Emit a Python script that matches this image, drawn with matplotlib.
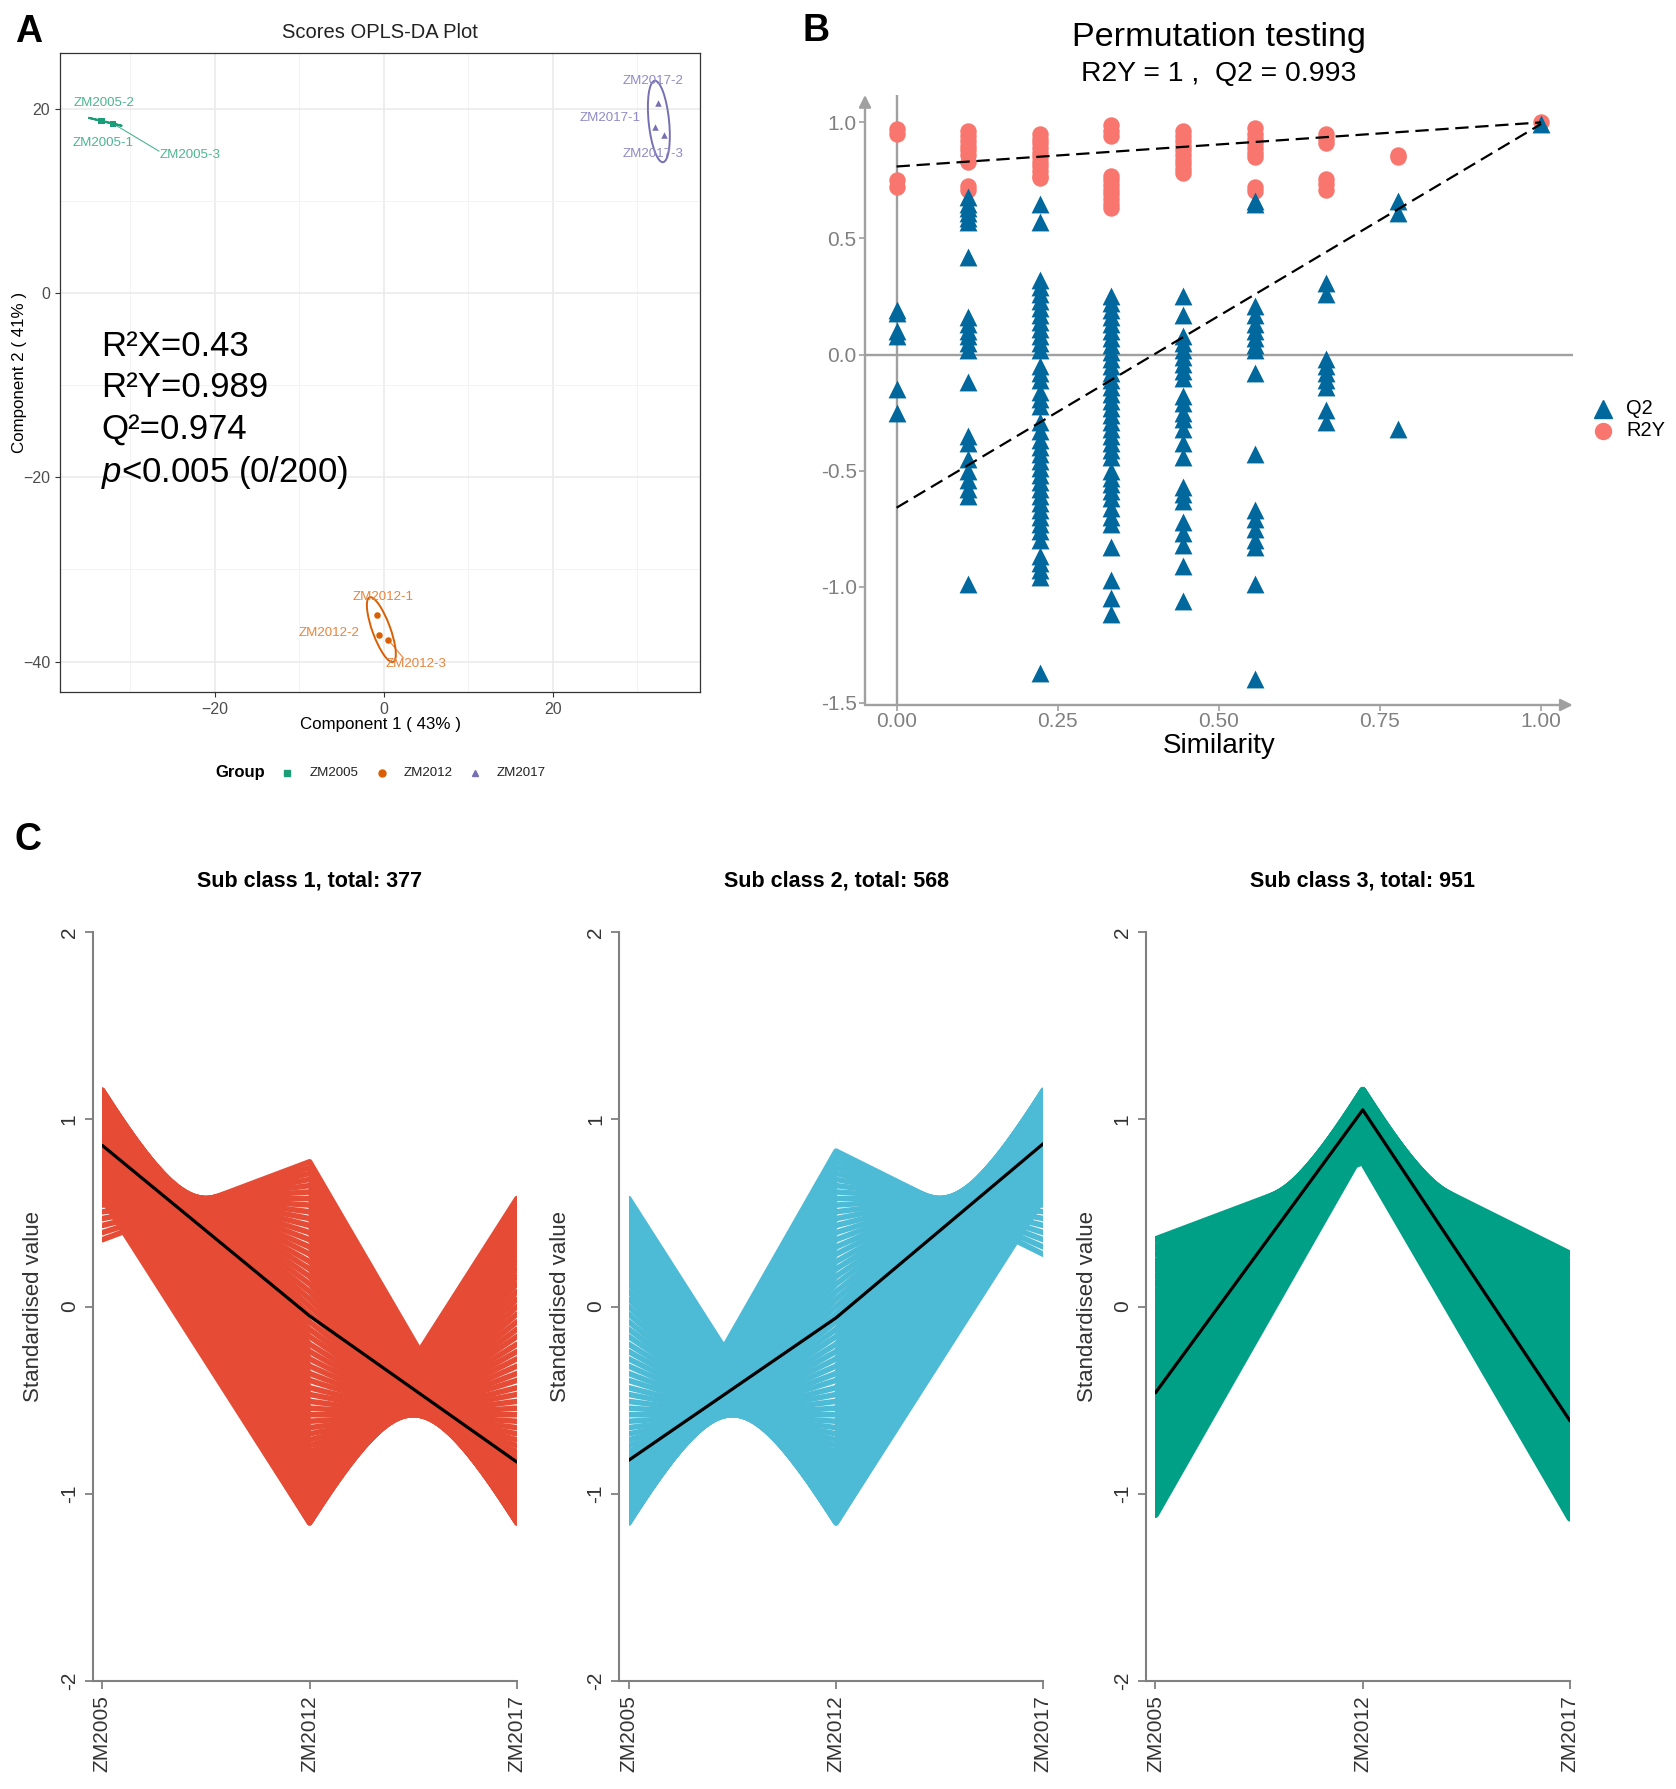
import matplotlib
matplotlib.use("Agg")
import matplotlib.pyplot as plt
import numpy as np
from matplotlib.patches import Ellipse, Rectangle
from matplotlib.lines import Line2D

plt.rcParams['font.family'] = ['Liberation Sans', 'DejaVu Sans']
plt.rcParams['mathtext.fontset'] = 'custom'
plt.rcParams['mathtext.it'] = 'Liberation Sans:italic'
plt.rcParams['mathtext.rm'] = 'Liberation Sans'

# ---------------- DATA ----------------
# Panel A: OPLS-DA scores
score_groups = ['ZM2005', 'ZM2012', 'ZM2017']
score_names = [['ZM2005-1', 'ZM2005-2', 'ZM2005-3'],
               ['ZM2012-1', 'ZM2012-2', 'ZM2012-3'],
               ['ZM2017-1', 'ZM2017-2', 'ZM2017-3']]
score_x = [[-33.5, -33.3, -32.0], [-0.79, -0.59, 0.51], [32.05, 32.45, 33.1]]
score_y = [[18.70, 18.66, 18.37], [-34.9, -37.08, -37.62], [18.0, 20.65, 17.2]]
model_stats = ['R\u00b2X=0.43', 'R\u00b2Y=0.989', 'Q\u00b2=0.974', r'$\mathit{p}$<0.005 (0/200)']

# Panel B: permutation test
perm_sim = [0.0, 0.111, 0.222, 0.333, 0.444, 0.556, 0.667, 0.778, 1.0]
q2_vals = [
    [0.19, 0.18, 0.10, 0.08, -0.15, -0.25],
    [0.68, 0.65, 0.63, 0.61, 0.59, 0.57, 0.42, 0.16, 0.13, 0.10, 0.08, 0.05, 0.02, -0.12,
     -0.35, -0.38, -0.45, -0.50, -0.54, -0.58, -0.61, -0.99],
    [0.65, 0.57, 0.32, 0.29, 0.26, 0.23, 0.20, 0.17, 0.14, 0.11, 0.08, 0.05, 0.02, -0.05,
     -0.08, -0.11, -0.16, -0.19, -0.22, -0.29, -0.33, -0.37, -0.40, -0.43, -0.46, -0.49,
     -0.52, -0.55, -0.58, -0.61, -0.64, -0.67, -0.70, -0.73, -0.76, -0.80, -0.87, -0.90,
     -0.93, -0.96, -1.37],
    [0.25, 0.22, 0.19, 0.16, 0.13, 0.10, 0.07, 0.04, 0.01, -0.02, -0.05, -0.08, -0.11, -0.14,
     -0.17, -0.20, -0.23, -0.26, -0.29, -0.32, -0.35, -0.38, -0.41, -0.44, -0.50, -0.53,
     -0.56, -0.59, -0.62, -0.66, -0.70, -0.73, -0.83, -0.97, -1.05, -1.12],
    [0.25, 0.17, 0.08, 0.05, 0.02, -0.01, -0.04, -0.07, -0.10, -0.18, -0.21, -0.25, -0.28,
     -0.32, -0.38, -0.44, -0.57, -0.60, -0.63, -0.72, -0.77, -0.82, -0.91, -1.06],
    [0.66, 0.65, 0.21, 0.17, 0.13, 0.10, 0.07, 0.04, 0.02, -0.08, -0.43, -0.67, -0.71, -0.75,
     -0.80, -0.83, -0.99, -1.40],
    [0.31, 0.26, -0.02, -0.05, -0.08, -0.11, -0.14, -0.24, -0.29],
    [0.66, 0.61, -0.32],
    [0.993],
]
r2y_vals = [
    [0.97, 0.95, 0.75, 0.72],
    [0.965, 0.94, 0.92, 0.90, 0.88, 0.86, 0.83, 0.725, 0.71],
    [0.95, 0.93, 0.91, 0.89, 0.87, 0.85, 0.83, 0.81, 0.79, 0.77, 0.76],
    [0.99, 0.965, 0.94, 0.77, 0.75, 0.73, 0.71, 0.69, 0.67, 0.65, 0.63],
    [0.965, 0.94, 0.92, 0.90, 0.88, 0.86, 0.84, 0.82, 0.80, 0.78],
    [0.975, 0.95, 0.93, 0.91, 0.89, 0.87, 0.85, 0.72, 0.705],
    [0.95, 0.93, 0.91, 0.755, 0.735, 0.71],
    [0.86, 0.85],
    [1.0],
]
r2y_intercept, r2y_model = 0.81, 1.0
q2_intercept, q2_model = -0.66, 0.993

# Panel C: standardised profiles (ZM2005, ZM2012, ZM2017) per feature
c_samples = ['ZM2005', 'ZM2012', 'ZM2017']
c_titles = ['Sub class 1, total: 377', 'Sub class 2, total: 568', 'Sub class 3, total: 951']

c1_2005 = [0.577, 0.612, 0.646, 0.679, 0.711, 0.742, 0.773, 0.802, 0.831, 0.858,
           0.885, 0.910, 0.934, 0.957, 0.979, 1.000, 1.019, 1.038, 1.055, 1.071,
           1.085, 1.098, 1.110, 1.120, 1.129, 1.137, 1.143, 1.148, 1.152, 1.154,
           1.155,
           1.154, 1.152, 1.148, 1.143, 1.137, 1.129, 1.120, 1.110, 1.098, 1.085,
           1.071, 1.055, 1.038, 1.019, 1.000, 0.979, 0.957, 0.934, 0.910, 0.885,
           0.858, 0.831, 0.802, 0.773, 0.742, 0.711, 0.679, 0.646, 0.612, 0.577,
           0.542, 0.506, 0.470, 0.433, 0.395, 0.357]
c1_2012 = [-1.155, -1.154, -1.152, -1.148, -1.143, -1.137, -1.129, -1.120, -1.110, -1.098,
           -1.085, -1.071, -1.055, -1.038, -1.020, -1.000, -0.980, -0.957, -0.935, -0.910,
           -0.885, -0.858, -0.831, -0.802, -0.773, -0.742, -0.711, -0.679, -0.646, -0.612,
           -0.577,
           -0.542, -0.506, -0.469, -0.433, -0.394, -0.357, -0.318, -0.279, -0.240, -0.201,
           -0.160, -0.121, -0.081, -0.040, 0.000, 0.040, 0.080, 0.121, 0.161, 0.201,
           0.240, 0.280, 0.318, 0.357, 0.395, 0.433, 0.470, 0.506, 0.542, 0.577,
           0.612, 0.646, 0.679, 0.711, 0.742, 0.773]
c1_2017 = [0.577, 0.542, 0.506, 0.470, 0.433, 0.395, 0.357, 0.318, 0.280, 0.240,
           0.201, 0.161, 0.121, 0.080, 0.040, 0.000, -0.040, -0.081, -0.121, -0.160,
           -0.201, -0.240, -0.279, -0.318, -0.357, -0.394, -0.433, -0.469, -0.506, -0.542,
           -0.577,
           -0.612, -0.646, -0.679, -0.711, -0.742, -0.773, -0.802, -0.831, -0.858, -0.885,
           -0.910, -0.935, -0.957, -0.980, -1.000, -1.020, -1.038, -1.055, -1.071, -1.085,
           -1.098, -1.110, -1.120, -1.129, -1.137, -1.143, -1.148, -1.152, -1.154, -1.155,
           -1.154, -1.152, -1.149, -1.143, -1.138, -1.129]

c2_2005 = [0.577, 0.542, 0.506, 0.470, 0.433, 0.395, 0.357, 0.318, 0.280, 0.240,
           0.201, 0.161, 0.121, 0.080, 0.040, 0.000, -0.040, -0.081, -0.121, -0.160,
           -0.201, -0.240, -0.279, -0.318, -0.357, -0.394, -0.433, -0.469, -0.506, -0.542,
           -0.577,
           -0.612, -0.646, -0.679, -0.711, -0.742, -0.773, -0.802, -0.831, -0.858, -0.885,
           -0.910, -0.935, -0.957, -0.980, -1.000, -1.020, -1.038, -1.055, -1.071, -1.085,
           -1.098, -1.110, -1.120, -1.129, -1.137, -1.143, -1.148, -1.152, -1.154, -1.155,
           -1.154, -1.152, -1.149, -1.143, -1.138, -1.129, -1.120, -1.110]
c2_2012 = [-1.155, -1.154, -1.152, -1.148, -1.143, -1.137, -1.129, -1.120, -1.110, -1.098,
           -1.085, -1.071, -1.055, -1.038, -1.020, -1.000, -0.980, -0.957, -0.935, -0.910,
           -0.885, -0.858, -0.831, -0.802, -0.773, -0.742, -0.711, -0.679, -0.646, -0.612,
           -0.577,
           -0.542, -0.506, -0.469, -0.433, -0.394, -0.357, -0.318, -0.279, -0.240, -0.201,
           -0.160, -0.121, -0.081, -0.040, 0.000, 0.040, 0.080, 0.121, 0.161, 0.201,
           0.240, 0.280, 0.318, 0.357, 0.395, 0.433, 0.470, 0.506, 0.542, 0.577,
           0.612, 0.646, 0.679, 0.711, 0.742, 0.773, 0.802, 0.830]
c2_2017 = [0.577, 0.612, 0.646, 0.679, 0.711, 0.742, 0.773, 0.802, 0.831, 0.858,
           0.885, 0.910, 0.934, 0.957, 0.979, 1.000, 1.019, 1.038, 1.055, 1.071,
           1.085, 1.098, 1.110, 1.120, 1.129, 1.137, 1.143, 1.148, 1.152, 1.154,
           1.155,
           1.154, 1.152, 1.148, 1.143, 1.137, 1.129, 1.120, 1.110, 1.098, 1.085,
           1.071, 1.055, 1.038, 1.019, 1.000, 0.979, 0.957, 0.934, 0.910, 0.885,
           0.858, 0.831, 0.802, 0.773, 0.742, 0.711, 0.679, 0.646, 0.612, 0.577,
           0.542, 0.506, 0.470, 0.433, 0.395, 0.357, 0.318, 0.279]

c3_2005 = [0.357, 0.318, 0.280, 0.240, 0.201, 0.161, 0.121, 0.080, 0.040, 0.000,
           -0.040, -0.081, -0.121, -0.160, -0.201, -0.240, -0.279, -0.318, -0.357, -0.394,
           -0.433, -0.469, -0.506, -0.542, -0.577, -0.612, -0.646, -0.679, -0.711, -0.742,
           -0.773, -0.802, -0.831, -0.858, -0.885, -0.910, -0.935, -0.957, -0.980, -1.000,
           -1.020, -1.038, -1.055, -1.071, -1.085, -1.098, -1.110]
c3_2012 = [0.773, 0.802, 0.831, 0.858, 0.885, 0.910, 0.934, 0.957, 0.979, 1.000,
           1.019, 1.038, 1.055, 1.071, 1.085, 1.098, 1.110, 1.120, 1.129, 1.137,
           1.143, 1.148, 1.152, 1.154, 1.155, 1.154, 1.152, 1.148, 1.143, 1.137,
           1.129, 1.120, 1.110, 1.098, 1.085, 1.071, 1.055, 1.038, 1.019, 1.000,
           0.979, 0.957, 0.934, 0.910, 0.885, 0.858, 0.831]
c3_2017 = [-1.129, -1.120, -1.110, -1.098, -1.085, -1.071, -1.055, -1.038, -1.020, -1.000,
           -0.980, -0.957, -0.935, -0.910, -0.885, -0.858, -0.831, -0.802, -0.773, -0.742,
           -0.711, -0.679, -0.646, -0.612, -0.577, -0.542, -0.506, -0.469, -0.433, -0.394,
           -0.357, -0.318, -0.279, -0.240, -0.201, -0.160, -0.121, -0.081, -0.040, 0.000,
           0.040, 0.080, 0.121, 0.161, 0.201, 0.240, 0.280]

c_means = [[0.86, -0.05, -0.83], [-0.82, -0.06, 0.87], [-0.46, 1.05, -0.61]]

# ---------------- LAYOUT ----------------
W, H = 1676, 1789
fig = plt.figure(figsize=(W / 100, H / 100), dpi=100)
fig.patch.set_facecolor('white')


def box(l, t, r, b):
    return [l / W, 1 - b / H, (r - l) / W, (b - t) / H]


def fx(px):
    return px / W


def fy(py):
    return 1 - py / H


# ================= Panel A =================
colA = ['#1B9E77', '#D95F02', '#7570B3']
lblA = ['#4DB594', '#E8843C', '#8F8AC6']
markA = ['s', 'o', '^']
axA = fig.add_axes(box(60, 52.5, 700, 692))
axA.set_xlim(-38.3, 37.4)
axA.set_ylim(-43.3, 26.1)
axA.set_xticks([-20, 0, 20])
axA.set_yticks([-40, -20, 0, 20])
axA.set_xticks([-30, -10, 10, 30], minor=True)
axA.set_yticks([-30, -10, 10], minor=True)
axA.grid(which='major', color='#EBEBEB', lw=1.2)
axA.grid(which='minor', color='#F3F3F3', lw=0.7)
axA.set_axisbelow(True)
axA.tick_params(which='major', labelsize=11.5, labelcolor='#4D4D4D', color='#333333',
                length=3.5, width=0.8)
axA.tick_params(which='minor', length=0)
for s in axA.spines.values():
    s.set_color('#333333')
    s.set_linewidth(0.9)
axA.set_xlabel('Component 1 ( 43% )', fontsize=12.2)
axA.set_ylabel('Component 2 ( 41% )', fontsize=12.2)
axA.xaxis.set_label_coords(0.5, -0.051)
axA.yaxis.set_label_coords(-0.063, 0.5)
axA.xaxis.label.set_va('center')
axA.yaxis.label.set_va('center')

label_offsets = {
    'ZM2005-1': (0.3, -2.4), 'ZM2005-2': (0.25, 1.97), 'ZM2005-3': (9.15, -3.41),
    'ZM2012-1': (0.75, 1.9), 'ZM2012-2': (-5.9, 0.18), 'ZM2012-3': (3.36, -2.68),
    'ZM2017-1': (-5.25, 1.0), 'ZM2017-2': (-0.6, 2.35), 'ZM2017-3': (-1.25, -2.1),
}
leaders = {'ZM2005-3': (-26.6, 15.4), 'ZM2012-3': (2.3, -39.6)}

for g in range(3):
    xs = np.array(score_x[g])
    ys = np.array(score_y[g])
    cov = np.cov(xs, ys)
    vals, vecs = np.linalg.eigh(cov)
    order = vals.argsort()[::-1]
    vals, vecs = vals[order], vecs[:, order]
    ang = np.degrees(np.arctan2(vecs[1, 0], vecs[0, 0]))
    k = np.sqrt(5.991)
    e = Ellipse((xs.mean(), ys.mean()), 2 * k * np.sqrt(vals[0]),
                2 * k * np.sqrt(max(vals[1], 1e-4)), angle=ang,
                facecolor='none', edgecolor=colA[g], lw=1.4, zorder=3)
    axA.add_patch(e)
    axA.scatter(xs, ys, marker=markA[g], s=22, color=colA[g], zorder=4, linewidths=0)
    for i, nm in enumerate(score_names[g]):
        dx, dy = label_offsets[nm]
        if nm in leaders:
            lx, ly = leaders[nm]
            axA.plot([xs[i], lx], [ys[i], ly], color=lblA[g], lw=0.8, zorder=2)
        axA.text(xs[i] + dx, ys[i] + dy, nm, color=lblA[g], fontsize=9.6,
                 ha='center', va='center', zorder=5)

stat_y = [-5.77, -10.3, -14.8, -19.5]
for t, yy in zip(model_stats, stat_y):
    axA.text(-33.4, yy, t, fontsize=25, ha='left', va='center', color='black')

fig.text(fx(380), fy(33), 'Scores OPLS-DA Plot', ha='center', va='center', fontsize=14.5,
         color='#222222')

# legend for A
fig.text(fx(240), fy(773), 'Group', ha='center', va='center', fontsize=12, fontweight='bold')
leg_mx = [287, 382, 475]
leg_tx = [310, 404, 497]
for g in range(3):
    fig.add_artist(Line2D([fx(leg_mx[g])], [fy(773)], marker=markA[g], color=colA[g],
                          markersize=5, linestyle='none', transform=fig.transFigure))
    fig.text(fx(leg_tx[g]), fy(773), score_groups[g], ha='left', va='center', fontsize=9.6,
             color='#222222')

# ================= Panel B =================
colQ2 = '#00689D'
colR2 = '#F8766D'
axB = fig.add_axes(box(865, 95, 1572.7, 705))
axB.set_xlim(-0.049, 1.049)
axB.set_ylim(-1.51, 1.118)
for s in axB.spines.values():
    s.set_visible(False)
axB.axvline(0, color='#A0A0A0', lw=1.7, zorder=1)
axB.axhline(0, color='#A0A0A0', lw=1.7, zorder=1)
axB.annotate('', xy=(0, 1), xytext=(0, 0), xycoords='axes fraction',
             arrowprops=dict(arrowstyle='-|>', color='#A0A0A0', lw=1.7, mutation_scale=18,
                             shrinkA=0, shrinkB=0))
axB.annotate('', xy=(1, 0), xytext=(0, 0), xycoords='axes fraction',
             arrowprops=dict(arrowstyle='-|>', color='#A0A0A0', lw=1.7, mutation_scale=18,
                             shrinkA=0, shrinkB=0))
axB.set_xticks([0, 0.25, 0.5, 0.75, 1.0])
axB.set_xticklabels(['0.00', '0.25', '0.50', '0.75', '1.00'])
axB.set_yticks([-1.5, -1.0, -0.5, 0.0, 0.5, 1.0])
axB.set_yticklabels(['-1.5', '-1.0', '-0.5', '0.0', '0.5', '1.0'])
axB.tick_params(labelsize=15, labelcolor='#808080', color='#A0A0A0', length=4, width=1.2,
                pad=2)
axB.tick_params(axis='x', pad=1)
axB.set_xlabel('Similarity', fontsize=20)
axB.xaxis.set_label_coords(0.5, -(746 - 705) / 610)
axB.xaxis.label.set_va('center')

for sim, vals in zip(perm_sim, r2y_vals):
    axB.scatter([sim] * len(vals), vals, marker='o', s=140, color=colR2, linewidths=0,
                zorder=3, clip_on=False)
for sim, vals in zip(perm_sim, q2_vals):
    axB.scatter([sim] * len(vals), vals, marker='^', s=165, color=colQ2, linewidths=0,
                zorder=4, clip_on=False)
axB.plot([0, 1], [r2y_intercept, r2y_model], color='black', lw=1.6, dashes=(6, 3), zorder=5)
axB.plot([0, 1], [q2_intercept, q2_model], color='black', lw=1.6, dashes=(6, 3), zorder=5)

fig.text(fx(1219), fy(37.5), 'Permutation testing', ha='center', va='center', fontsize=24.6)
fig.text(fx(1219), fy(73.5), 'R2Y = 1 ,  Q2 = 0.993', ha='center', va='center', fontsize=20.4)

fig.add_artist(Line2D([fx(1603)], [fy(409)], marker='^', color=colQ2, markersize=13,
                      linestyle='none', transform=fig.transFigure))
fig.add_artist(Line2D([fx(1603)], [fy(431)], marker='o', color=colR2, markersize=11.5,
                      linestyle='none', transform=fig.transFigure))
fig.text(fx(1626), fy(409), 'Q2', ha='left', va='center', fontsize=14.4)
fig.text(fx(1626), fy(431), 'R2Y', ha='left', va='center', fontsize=14.4)

# ================= Panel C =================
c_colors = ['#E64B35', '#4DBBD5', '#00A087']
c_data = [(c1_2005, c1_2012, c1_2017), (c2_2005, c2_2012, c2_2017),
          (c3_2005, c3_2012, c3_2017)]
c_lw = [4.0, 4.0, 5.0]
c_lefts = [92.6, 619, 1145.7]
for k in range(3):
    l = c_lefts[k]
    ax = fig.add_axes(box(l, 931.9, l + 434.1, 1681.3))
    ax.set_xlim(0.953, 3.047)
    ax.set_ylim(-2, 2)
    clip = Rectangle((1, -2), 2, 4, transform=ax.transData)
    a, b, c = c_data[k]
    for i in range(len(a)):
        ln, = ax.plot([1, 2, 3], [a[i], b[i], c[i]], color=c_colors[k], lw=c_lw[k],
                      solid_capstyle='round', solid_joinstyle='round', zorder=2)
        ln.set_clip_path(clip)
    ml, = ax.plot([1, 2, 3], c_means[k], color='black', lw=2.3, zorder=3,
                  solid_capstyle='round', solid_joinstyle='round')
    ml.set_clip_path(clip)
    for sp in ['top', 'right']:
        ax.spines[sp].set_visible(False)
    for sp in ['left', 'bottom']:
        ax.spines[sp].set_color('#808080')
        ax.spines[sp].set_linewidth(1.5)
    ax.spines['bottom'].set_bounds(0.953, 3.0)
    ax.set_xticks([1, 2, 3])
    ax.set_xticklabels(c_samples, rotation=90)
    ax.set_yticks([-2, -1, 0, 1, 2])
    ax.set_yticklabels(['-2', '-1', '0', '1', '2'], rotation=90, va='center')
    ax.tick_params(labelsize=15, labelcolor='#333333', color='#808080', length=6, width=1.3,
                   pad=4)
    ax.set_ylabel('Standardised value', fontsize=16, color='#333333')
    ax.yaxis.set_label_coords(-0.135, 0.5)
    ax.yaxis.label.set_va('center')
    ax.text(0.5, 1 + 51 / 749.4, c_titles[k], transform=ax.transAxes, ha='center',
            va='center', fontsize=15.5, fontweight='bold')

# panel letters
fig.text(fx(29), fy(31.5), 'A', ha='center', va='center', fontsize=27, fontweight='bold')
fig.text(fx(816), fy(31), 'B', ha='center', va='center', fontsize=27, fontweight='bold')
fig.text(fx(27.5), fy(839.5), 'C', ha='center', va='center', fontsize=27, fontweight='bold')

fig.savefig('out.png', dpi=100, facecolor='white')
